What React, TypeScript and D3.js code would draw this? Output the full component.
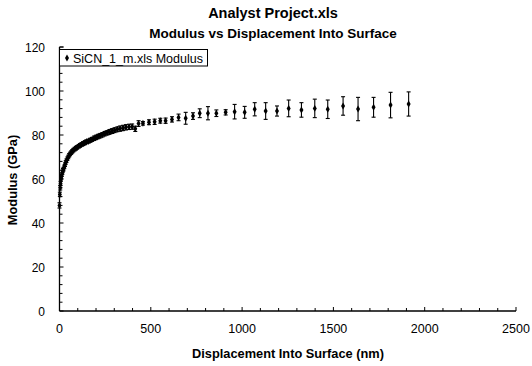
import React from "react";
import * as d3 from "d3";

const titleLines = ["Analyst Project.xls", "Modulus vs Displacement Into Surface"];
const xLabel = "Displacement Into Surface (nm)";
const yLabel = "Modulus (GPa)";
const legendLabel = "SiCN_1_m.xls Modulus";
const xTicks = [0, 500, 1000, 1500, 2000, 2500];
const yTicks = [0, 20, 40, 60, 80, 100, 120];

const depth = [
  0, 2, 4, 6, 8, 10, 13, 16, 19, 22, 26, 30, 34, 38, 43, 48, 53, 58, 64, 70,
  76, 83, 90, 97, 105, 113, 121, 130, 139, 148, 158, 168, 178, 189, 200, 211,
  223, 235, 248, 261, 274, 288, 302, 317, 332, 348, 364, 381, 398, 415, 433,
  457, 490, 521, 552, 581, 616, 652, 691, 731, 768, 813, 859, 910, 959, 1014,
  1069, 1129, 1191, 1255, 1325, 1398, 1469, 1553, 1635, 1720, 1813, 1912,
];
const modulus = [
  48, 53, 56, 58, 60, 61, 62, 63, 64, 64.5, 65.5, 66.5, 67.5, 68.3, 69.2, 70,
  70.8, 71.4, 72, 72.6, 73.1, 73.6, 74, 74.4, 74.9, 75.3, 75.7, 76.1, 76.5,
  76.9, 77.2, 77.6, 78, 78.5, 78.9, 79.3, 79.7, 80.1, 80.6, 81, 81.4, 81.8,
  82.2, 82.6, 82.9, 83.2, 83.5, 83.7, 83.8, 82.8, 85.2, 85.3, 85.8, 86, 86.5,
  86.5, 87.1, 88, 87.6, 88.6, 89.9, 89.9, 89.9, 90.3, 90.6, 90.3, 91.7, 90.9,
  90.9, 92.1, 91.4, 92.1, 91.7, 93.2, 91.8, 92.6, 93.6, 94.1,
];
const errorBar = [
  1.2, 1.0, 1.0, 0.9, 0.9, 0.9, 0.8, 0.8, 0.8, 0.8, 0.8, 0.8, 0.8, 0.8, 0.8,
  0.8, 0.8, 0.8, 0.8, 0.8, 0.8, 0.8, 0.8, 0.8, 0.8, 0.8, 0.8, 0.9, 0.9, 0.9,
  0.9, 0.9, 0.9, 1.0, 1.0, 1.0, 1.0, 1.0, 1.0, 1.0, 1.1, 1.1, 1.1, 1.1, 1.2,
  1.2, 1.2, 1.2, 1.2, 1.2, 1.3, 0.8, 1.1, 1.2, 1.1, 1.2, 1.2, 1.5, 2.7, 1.5,
  2.0, 3.0, 1.5, 1.2, 3.3, 2.7, 3.0, 3.8, 2.3, 3.8, 3.3, 4.2, 4.2, 4.2, 5.3,
  4.5, 5.8, 5.5,
];

const W = 532;
const H = 366;
const font = "'Liberation Sans', Arial, sans-serif";

export default function App() {
  const x = d3.scaleLinear().domain([0, 2500]).range([59.5, 516]);
  const y = d3.scaleLinear().domain([0, 120]).range([311, 47]);
  const xMinor = d3.range(0, 2501, 100);
  const yMinor = d3.range(0, 121, 4);
  const pts = depth.map((d, i) => ({ d, m: modulus[i], e: errorBar[i] }));
  const diamond = d3.symbol().type(d3.symbolDiamond).size(14)() as string;

  return (
    <svg
      width={W}
      height={H}
      style={{ position: "absolute", left: 0, top: 0, background: "#fff" }}
      fontFamily={font}
    >
      <rect width={W} height={H} fill="#fff" />
      {titleLines.map((t, i) => (
        <text
          key={t}
          x={273}
          y={18 + i * 20}
          textAnchor="middle"
          fontWeight="bold"
          fontSize={i === 0 ? 14.5 : 13.5}
          fill="#000"
        >
          {t}
        </text>
      ))}

      {/* axes */}
      <line x1={x(0)} x2={x(0)} y1={y(120)} y2={y(0)} stroke="#000" strokeWidth={1.3} />
      <line x1={x(0)} x2={x(2500)} y1={y(0)} y2={y(0)} stroke="#000" strokeWidth={1.3} />
      <line x1={x(0)} x2={x(0) + 4} y1={y(120)} y2={y(120)} stroke="#000" strokeWidth={1} />
      {yMinor.map((v) => (
        <line
          key={"ym" + v}
          x1={x(0)}
          x2={x(0) + (v % 20 === 0 ? 4 : 3)}
          y1={y(v)}
          y2={y(v)}
          stroke="#000"
          strokeWidth={1}
        />
      ))}
      {xMinor.map((v) => (
        <line
          key={"xm" + v}
          x1={x(v)}
          x2={x(v)}
          y1={y(0)}
          y2={y(0) - (v % 500 === 0 ? 4 : 3)}
          stroke="#000"
          strokeWidth={1}
        />
      ))}
      {yTicks.map((v) => (
        <text key={"yt" + v} x={45} y={y(v) + 4.5} textAnchor="end" fontSize={12} fill="#000">
          {v}
        </text>
      ))}
      {xTicks.map((v) => (
        <text key={"xt" + v} x={x(v)} y={333} textAnchor="middle" fontSize={12.5} fill="#000">
          {v}
        </text>
      ))}
      <text x={288} y={358} textAnchor="middle" fontWeight="bold" fontSize={12.8} fill="#000">
        {xLabel}
      </text>
      <text
        transform={`translate(17,${180}) rotate(-90)`}
        textAnchor="middle"
        fontWeight="bold"
        fontSize={12.8}
        fill="#000"
      >
        {yLabel}
      </text>

      {/* data */}
      <g stroke="#000" strokeWidth={1.1}>
        {pts.map((p, i) => (
          <g key={"e" + i}>
            <line x1={x(p.d)} x2={x(p.d)} y1={y(p.m - p.e)} y2={y(p.m + p.e)} />
            <line x1={x(p.d) - 2} x2={x(p.d) + 2} y1={y(p.m - p.e)} y2={y(p.m - p.e)} />
            <line x1={x(p.d) - 2} x2={x(p.d) + 2} y1={y(p.m + p.e)} y2={y(p.m + p.e)} />
          </g>
        ))}
      </g>
      {pts.map((p, i) => (
        <path key={"p" + i} d={diamond} transform={`translate(${x(p.d)},${y(p.m)})`} fill="#000" />
      ))}

      {/* legend */}
      <rect x={59.5} y={49.5} width={148} height={16.5} fill="#fff" stroke="#000" strokeWidth={1} />
      <path d={diamond} transform="translate(67,58)" fill="#000" />
      <text x={73} y={62.5} fontSize={12.5} fill="#000">
        {legendLabel}
      </text>
    </svg>
  );
}
